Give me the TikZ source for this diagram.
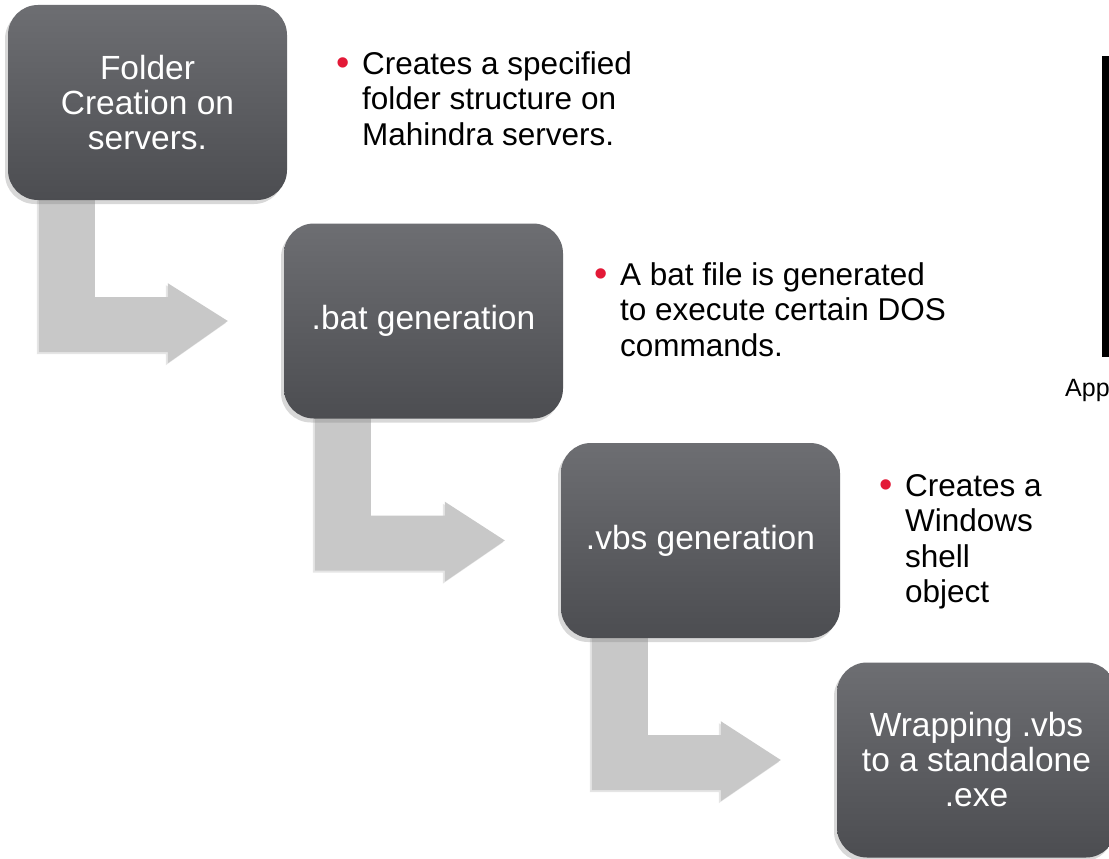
\documentclass[tikz,border=0pt]{standalone}
\usepackage{fontspec}
\setmainfont{Liberation Sans}
\usetikzlibrary{calc,shadows,backgrounds}

\definecolor{boxtop}{HTML}{6D6E72}
\definecolor{boxbot}{HTML}{4C4D51}
\definecolor{arrowgray}{HTML}{C8C8C8}
\definecolor{bulred}{HTML}{E31937}
\definecolor{framefill}{HTML}{F3F7FB}

% red bullet in front of a note
\newcommand{\redbullet}{\llap{\raisebox{-1pt}{\textcolor{bulred}{\fontsize{38}{38}\selectfont\textbullet}}\hspace{12.5pt}}}

% bent block arrow from one step to the next
\newcommand{\bentarrow}[2]{%
  \fill[flow] let \p1=(#1.south west), \p2=(#2.west) in
    (\x1+31pt,\y1+5pt) -- (\x1+31pt,\y1-152pt) -- (\x2-116pt,\y1-152pt)
    -- (\x2-116pt,\y1-163pt) -- (\x2-56pt,\y2) -- (\x2-116pt,\y1-83pt)
    -- (\x2-116pt,\y1-97pt) -- (\x1+87pt,\y1-97pt) -- (\x1+87pt,\y1+5pt) -- cycle;}

\begin{document}
\begin{tikzpicture}[
    x=1pt, y=-1pt,
    stepbox/.style={rounded corners=30pt, minimum width=279pt, minimum height=195pt, inner sep=0pt, align=center,
        top color=boxtop, bottom color=boxbot, text=white, font=\fontsize{33.5}{35}\selectfont,
        drop shadow={shadow xshift=-3pt, shadow yshift=-4pt, opacity=0.3}},
    note/.style={anchor=north west, inner sep=0pt, align=left, font=\fontsize{31.5}{35.5}\selectfont},
    flow/.style={fill=arrowgray, drop shadow={shadow xshift=-2pt, shadow yshift=-2pt, opacity=0.2}},
    shot/.style={draw=black, line width=7pt, fill=framefill, anchor=north west, minimum width=40pt, minimum height=293pt}
]
    \useasboundingbox (0,0) rectangle (1109,859);
    \clip (0,0) rectangle (1109,859);

    % Steps
    \node[stepbox] (folder) at (147.5,102.5) {Folder\\Creation on\\servers.};
    \node[stepbox] (bat) at (423.5,321) {.bat generation};
    \node[stepbox] (vbs) at (700.5,540.5) {.vbs generation};
    \node[stepbox] (exe) at (976.5,760) {Wrapping .vbs\\to a standalone\\.exe};

    % Notes
    \node[note] (folderNote) at (362,51) {\redbullet Creates a specified\\folder structure on\\Mahindra servers.};
    \node[note] (batNote) at (620,262) {\redbullet A bat file is generated\\to execute certain DOS\\commands.};
    \node[note] (vbsNote) at (905,474) {\redbullet Creates a\\Windows\\shell\\object};

    % Screenshot at the edge
    \node[shot] (screen) at (1101.5,56.5) {};
    \node[anchor=base west, inner sep=0pt, font=\fontsize{25}{25}\selectfont] (screenCap) at (1065,396) {App};

    % Arrows
    \begin{scope}[on background layer]
        \fill[white] (0,0) rectangle (1109,859);
        \bentarrow{folder}{bat}
        \bentarrow{bat}{vbs}
        \bentarrow{vbs}{exe}
    \end{scope}
\end{tikzpicture}
\end{document}
